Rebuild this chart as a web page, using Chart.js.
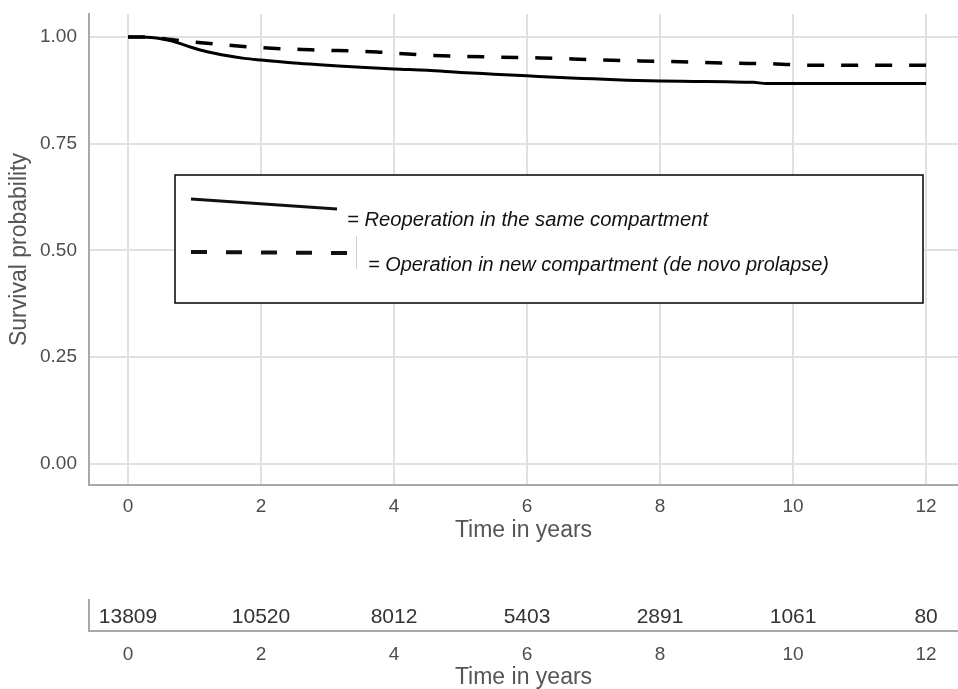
<!DOCTYPE html>
<html>
<head>
<meta charset="utf-8">
<script src="https://cdn.jsdelivr.net/npm/chart.js@4.4.1/dist/chart.umd.min.js"></script>
<style>
  html, body { margin: 0; padding: 0; background: #fff; }
  #wrap { position: relative; width: 958px; height: 689px; overflow: hidden; }
  #mainChart { position: absolute; left: 0; top: 0; }
  #riskChart { position: absolute; left: 0; top: 590px; }
</style>
</head>
<body>
<div id="wrap">
  <canvas id="mainChart" width="958" height="550"></canvas>
  <canvas id="riskChart" width="958" height="99"></canvas>
</div>
<script>
// Reoperation in the same compartment (solid)
const sameTimes = [0, 0.2, 0.35, 0.5, 0.65, 0.8, 0.95, 1.1, 1.3, 1.5, 1.75, 2.0, 2.5, 3.0, 3.5, 4.0, 4.5, 5.0, 5.5, 6.0, 6.5, 7.0, 7.5, 8.0, 8.5, 9.0, 9.4, 9.6, 10.0, 11.0, 12.0];
const sameSurv  = [1.0, 1.0, 0.999, 0.996, 0.991, 0.984, 0.976, 0.969, 0.962, 0.956, 0.950, 0.946, 0.939, 0.934, 0.929, 0.925, 0.922, 0.917, 0.913, 0.909, 0.905, 0.902, 0.899, 0.897, 0.896, 0.895, 0.894, 0.891, 0.891, 0.891, 0.891];

// Operation in new compartment (dashed)
const newTimes = [0, 0.2, 0.35, 0.5, 0.65, 0.8, 1.0, 1.5, 2.0, 2.75, 3.75, 4.0, 4.6, 5.5, 6.2, 7.0, 7.7, 8.3, 9.0, 9.75, 10.25, 11.0, 12.0];
const newSurv  = [1.0, 1.0, 0.999, 0.997, 0.994, 0.991, 0.988, 0.981, 0.975, 0.970, 0.965, 0.962, 0.957, 0.953, 0.951, 0.947, 0.944, 0.942, 0.939, 0.937, 0.934, 0.934, 0.934];

const xTicks = [0, 2, 4, 6, 8, 10, 12];
const yTicks = [0, 0.25, 0.5, 0.75, 1.0];

// number at risk
const riskTimes = [0, 2, 4, 6, 8, 10, 12];
const riskCounts = [13809, 10520, 8012, 5403, 2891, 1061, 80];

const legendLabels = ["= Reoperation in the same compartment", "= Operation in new compartment (de novo prolapse)"];

const FONT = "'Liberation Sans', Arial, sans-serif";
const GRID = "#e0e0e0";
const AXIS = "#a8a8a8";
const TICK = "#4d4d4d";
const TITLE = "#555555";

const X_MIN = -0.586, X_MAX = 12.48;

function toPoints(xs, ys) {
  return xs.map((x, i) => ({ x: x, y: ys[i] }));
}

function noPadY(s, w) {
  s.width = w;
  s.paddingTop = 0;
  s.paddingBottom = 0;
}

function noPadX(s, h) {
  s.height = h;
  s.paddingLeft = 0;
  s.paddingRight = 0;
}

function fitText(ctx, text, x, y, width, size) {
  ctx.save();
  ctx.font = "italic " + size + "px " + FONT;
  ctx.textBaseline = "middle";
  ctx.textAlign = "left";
  ctx.fillStyle = "#111";
  const w = ctx.measureText(text).width;
  ctx.translate(x, y);
  ctx.scale(width / w, 1);
  ctx.fillText(text, 0, 0);
  ctx.restore();
}

// legend box drawn inside the plot
const legendBox = {
  id: "legendBox",
  afterDraw(chart) {
    const ctx = chart.ctx;
    ctx.save();
    ctx.fillStyle = "#fff";
    ctx.fillRect(175, 175, 748, 128);
    ctx.strokeStyle = "#000";
    ctx.lineWidth = 1.5;
    ctx.strokeRect(175, 175, 748, 128);

    // solid sample
    ctx.strokeStyle = "#111";
    ctx.lineWidth = 3;
    ctx.beginPath();
    ctx.moveTo(191, 199);
    ctx.lineTo(337, 209);
    ctx.stroke();

    // dashed sample
    ctx.lineWidth = 4;
    ctx.setLineDash([16, 19]);
    ctx.beginPath();
    ctx.moveTo(191, 252);
    ctx.lineTo(350, 253);
    ctx.stroke();
    ctx.setLineDash([]);

    ctx.strokeStyle = "#cfcfcf";
    ctx.lineWidth = 1;
    ctx.beginPath();
    ctx.moveTo(356.5, 236);
    ctx.lineTo(356.5, 269);
    ctx.stroke();
    ctx.restore();

    fitText(ctx, legendLabels[0], 347, 220, 361, 20);
    fitText(ctx, legendLabels[1], 368, 265, 461, 20);
  }
};

new Chart(document.getElementById("mainChart"), {
  type: "line",
  data: {
    datasets: [
      {
        label: "Reoperation in the same compartment",
        data: toPoints(sameTimes, sameSurv),
        borderColor: "#000",
        borderWidth: 3,
        pointRadius: 0,
        fill: false,
        cubicInterpolationMode: "monotone",
      },
      {
        label: "Operation in new compartment",
        data: toPoints(newTimes, newSurv),
        borderColor: "#000",
        borderWidth: 3.5,
        borderDash: [17, 17],
        pointRadius: 0,
        fill: false,
        cubicInterpolationMode: "monotone",
      },
    ],
  },
  options: {
    responsive: false,
    animation: false,
    devicePixelRatio: 1,
    layout: { padding: { top: 14, right: 0, left: 0, bottom: 0 } },
    plugins: { legend: { display: false }, tooltip: { enabled: false } },
    scales: {
      x: {
        type: "linear",
        min: X_MIN,
        max: X_MAX,
        afterBuildTicks: (s) => { s.ticks = xTicks.map((v) => ({ value: v })); },
        afterFit: (s) => noPadX(s, 65),
        grid: { color: GRID, lineWidth: 2, drawTicks: false },
        border: { color: AXIS, width: 2 },
        ticks: { padding: 10, color: TICK, font: { family: FONT, size: 19 }, maxRotation: 0 },
        title: { display: true, text: "Time in years", color: TITLE, font: { family: FONT, size: 23 }, padding: { top: 0, bottom: 6 } },
      },
      y: {
        type: "linear",
        min: -0.05,
        max: 1.054,
        afterBuildTicks: (s) => { s.ticks = yTicks.map((v) => ({ value: v })); },
        afterFit: (s) => noPadY(s, 89),
        grid: { color: GRID, lineWidth: 2, drawTicks: false },
        border: { color: AXIS, width: 2 },
        ticks: { padding: 12, color: TICK, font: { family: FONT, size: 19 }, callback: (v) => v.toFixed(2) },
        title: { display: true, text: "Survival probability", color: TITLE, font: { family: FONT, size: 23 }, padding: { top: 6, bottom: 0 } },
      },
    },
  },
  plugins: [legendBox],
});

// risk table numbers drawn at their data points
const riskLabels = {
  id: "riskLabels",
  afterDatasetsDraw(chart) {
    const ctx = chart.ctx;
    const meta = chart.getDatasetMeta(0);
    ctx.save();
    ctx.font = "21px " + FONT;
    ctx.fillStyle = "#333";
    ctx.textAlign = "center";
    ctx.textBaseline = "middle";
    meta.data.forEach((el, i) => {
      ctx.fillText(String(riskCounts[i]), el.x, el.y);
    });
    ctx.restore();
  }
};

const ROW_Y = 0.45;
new Chart(document.getElementById("riskChart"), {
  type: "line",
  data: {
    datasets: [{
      label: "Number at risk",
      data: riskTimes.map((t) => ({ x: t, y: ROW_Y })),
      showLine: false,
      pointRadius: 0,
    }],
  },
  options: {
    responsive: false,
    animation: false,
    devicePixelRatio: 1,
    layout: { padding: { top: 10, right: 0, left: 0, bottom: 0 } },
    plugins: { legend: { display: false }, tooltip: { enabled: false } },
    scales: {
      x: {
        type: "linear",
        min: X_MIN,
        max: X_MAX,
        afterBuildTicks: (s) => { s.ticks = xTicks.map((v) => ({ value: v })); },
        afterFit: (s) => noPadX(s, 58),
        grid: { display: false, drawTicks: false },
        border: { color: AXIS, width: 2 },
        ticks: { padding: 12, color: TICK, font: { family: FONT, size: 19 }, maxRotation: 0 },
        title: { display: true, text: "Time in years", color: TITLE, font: { family: FONT, size: 23 }, padding: { top: 0, bottom: -2 } },
      },
      y: {
        type: "linear",
        min: 0,
        max: 1,
        afterFit: (s) => noPadY(s, 89),
        grid: { display: false, drawTicks: false },
        border: { color: AXIS, width: 2 },
        ticks: { display: false },
      },
    },
  },
  plugins: [riskLabels],
});
</script>
</body>
</html>
